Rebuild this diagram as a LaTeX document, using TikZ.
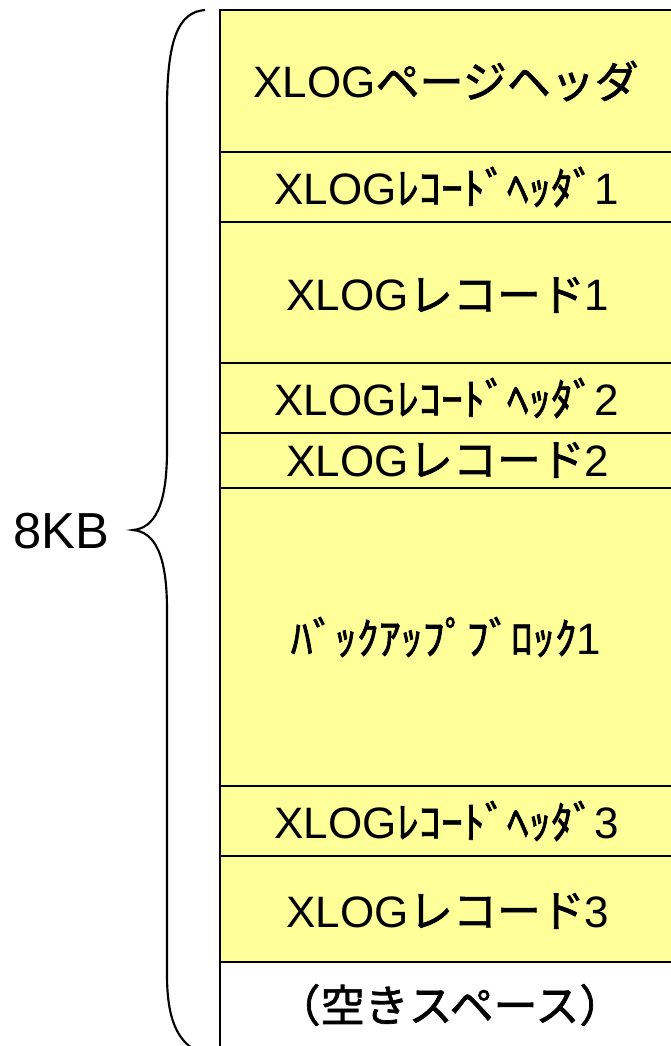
\documentclass[tikz,border=0pt]{standalone}
\usepackage{fontspec}
\setmainfont{Liberation Sans}
\newfontfamily\jp[FakeBold=1.5]{Noto Sans CJK JP}
\usepackage{xcolor}
\definecolor{pageyellow}{HTML}{FFFF99}

\begin{document}
\begin{tikzpicture}[x=0.75pt, y=-0.75pt, every node/.style={font=\fontsize{33}{38}\selectfont, inner sep=0pt},
  rowbox/.style={draw, line width=2pt, fill=pageyellow}]
  \useasboundingbox (0,0) rectangle (671,1046);
  \clip (0,0) rectangle (671,1046);
  % rows of the page
  \draw[rowbox] (220, 10) rectangle (674, 152);
  \node (pghdr) at (446, 81) {XLOG{\jp ページヘッダ}};
  \draw[rowbox] (220, 152) rectangle (674, 222);
  \node (rechdr1) at (447, 187) {XLOG{\jp ﾚｺｰﾄﾞﾍｯﾀﾞ}1};
  \draw[rowbox] (220, 222) rectangle (674, 363);
  \node (rec1) at (448, 295) {XLOG{\jp レコード}1};
  \draw[rowbox] (220, 363) rectangle (674, 433);
  \node (rechdr2) at (447, 398) {XLOG{\jp ﾚｺｰﾄﾞﾍｯﾀﾞ}2};
  \draw[rowbox] (220, 433) rectangle (674, 488);
  \node (rec2) at (448, 460) {XLOG{\jp レコード}2};
  \draw[rowbox] (220, 488) rectangle (674, 786);
  \node (bkp1) at (446, 637) {{\jp ﾊﾞｯｸｱｯﾌﾟﾌﾞﾛｯｸ}1};
  \draw[rowbox] (220, 786) rectangle (674, 856);
  \node (rechdr3) at (447, 821) {XLOG{\jp ﾚｺｰﾄﾞﾍｯﾀﾞ}3};
  \draw[rowbox] (220, 856) rectangle (674, 962);
  \node (rec3) at (448, 911) {XLOG{\jp レコード}3};
  \draw[line width=2pt] (220, 962) rectangle (674, 1060);
  \node (free) at (450, 1005) {{\jp （空きスペース）}};
  % brace and size
  \draw[line width=1.6pt] (205, 10) .. controls (178, 12) and (167, 40) .. (167, 110)
    -- (167, 450) .. controls (167, 505) and (155, 528) .. (133, 530)
    .. controls (155, 532) and (167, 555) .. (167, 610)
    -- (167, 975) .. controls (167, 1020) and (178, 1040) .. (195, 1050);
  \node[font=\fontsize{38}{44}\selectfont] (size) at (61, 531) {8KB};
\end{tikzpicture}
\end{document}
